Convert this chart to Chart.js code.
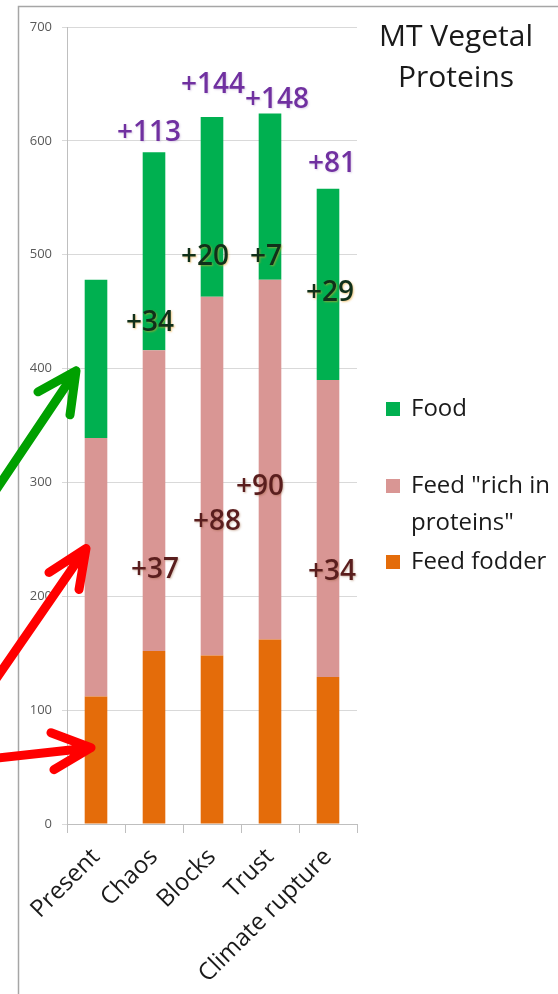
<!DOCTYPE html>
<html><head><meta charset="utf-8">
<script src="https://cdn.jsdelivr.net/npm/chart.js@4.4.1/dist/chart.umd.min.js"></script>
<style>html,body{margin:0;padding:0;background:#fff;} #wrap{width:558px;height:994px;position:relative;}</style>
</head><body><div id="wrap"><canvas id="c" width="558" height="994"></canvas></div>
<script>
// ---- data ----
const categories = ['Present', 'Chaos', 'Blocks', 'Trust', 'Climate rupture'];
const feedFodder = [112, 152, 148, 162, 129];
const feedRich   = [227, 264, 315, 316, 261];
const food       = [139, 174, 158, 146, 168];
const yTicks = [0, 100, 200, 300, 400, 500, 600, 700];
const titleLines = ['MT Vegetal', 'Proteins'];

// change annotations (text) and their anchor values (in data units)
const totalGainLabels = [null, '+113', '+144', '+148', '+81'];
const totalGainY      = [null, 607, 649, 636, 580];
const foodGainLabels  = [null, '+34', '+20', '+7', '+29'];
const foodGainY       = [null, 440, 498, 498, 466];
const richGainLabels  = [null, '+37', '+88', '+90', '+34'];
const richGainY       = [null, 223, 265, 296, 221];

// ---- layout / style (not data) ----
const FONT = "'Open Sans', 'DejaVu Sans', sans-serif";
const totalDx = [0, -5, 1, 7, 4];
const foodDx  = [0, -4, -7, -4, 2];
const richDx  = [0, 1, 5, -10, 4];
const legendY = [409, 486, 562];

const decorPlugin = {
  id: 'decor',
  beforeDraw(chart) {
    const ctx = chart.ctx;
    ctx.save();
    ctx.fillStyle = '#ffffff';
    ctx.fillRect(0, 0, chart.width, chart.height);
    ctx.strokeStyle = '#a6a6a6';
    ctx.lineWidth = 1.5;
    ctx.beginPath();
    ctx.moveTo(18.5, chart.height);
    ctx.lineTo(18.5, 6.5);
    ctx.lineTo(chart.width, 6.5);
    ctx.stroke();
    ctx.restore();
  },
  afterDraw(chart) {
    const ctx = chart.ctx;
    const xs = chart.scales.x, ys = chart.scales.y;
    ctx.save();
    // title
    ctx.fillStyle = '#1a1a1a';
    ctx.font = `30px ${FONT}`;
    ctx.textAlign = 'center';
    ctx.textBaseline = 'middle';
    titleLines.forEach((t, i) => ctx.fillText(t, 456, 37 + i * 41));

    // legend (reverse dataset order)
    const ds = chart.data.datasets.slice().reverse();
    ctx.font = `24px ${FONT}`;
    ctx.textAlign = 'left';
    ds.forEach((d, i) => {
      const y0 = legendY[i];
      ctx.fillStyle = d.backgroundColor;
      ctx.fillRect(386, y0 - 7, 14, 14);
      const words = d.label.split(' ');
      const lines = [];
      let cur = '';
      words.forEach(w => {
        const test = cur ? cur + ' ' + w : w;
        if (ctx.measureText(test).width > 146 && cur) { lines.push(cur); cur = w; }
        else cur = test;
      });
      lines.push(cur);
      ctx.fillStyle = '#1a1a1a';
      lines.forEach((l, j) => ctx.fillText(l, 411, y0 + j * 37));
    });

    // change labels
    const drawSet = (texts, yvals, dxs, color, shadow) => {
      texts.forEach((t, i) => {
        if (!t) return;
        const x = xs.getPixelForValue(i) + dxs[i];
        const y = ys.getPixelForValue(yvals[i]);
        ctx.save();
        ctx.shadowColor = shadow;
        ctx.shadowOffsetX = 1;
        ctx.shadowOffsetY = 1;
        ctx.shadowBlur = 2;
        ctx.fillStyle = color;
        ctx.fillText(t, x, y);
        ctx.restore();
      });
    };
    ctx.font = `600 28px ${FONT}`;
    ctx.textAlign = 'center';
    ctx.textBaseline = 'middle';
    drawSet(totalGainLabels, totalGainY, totalDx, '#7030a0', 'rgba(160,130,190,0.35)');
    drawSet(foodGainLabels, foodGainY, foodDx, '#10301a', 'rgba(230,160,40,0.55)');
    drawSet(richGainLabels, richGainY, richDx, '#5a1e1e', 'rgba(140,80,40,0.35)');

    // arrows pointing at the Present bar
    const cx = xs.getPixelForValue(0);
    const arrow = (tip, start, b1, b2, color) => {
      ctx.save();
      ctx.strokeStyle = color;
      ctx.lineWidth = 9;
      ctx.lineCap = 'round';
      ctx.lineJoin = 'round';
      ctx.beginPath();
      ctx.moveTo(tip[0] + start[0], tip[1] + start[1]);
      ctx.lineTo(tip[0], tip[1]);
      ctx.moveTo(tip[0] + b1[0], tip[1] + b1[1]);
      ctx.lineTo(tip[0], tip[1]);
      ctx.lineTo(tip[0] + b2[0], tip[1] + b2[1]);
      ctx.stroke();
      ctx.restore();
    };
    arrow([cx - 20, ys.getPixelForValue(398)], [-90, 134], [-38, 21], [-6, 44], '#00a000');
    arrow([cx - 10, ys.getPixelForValue(242)], [-100, 145], [-37, 24], [-7, 41], '#ff0000');
    arrow([cx - 5, ys.getPixelForValue(67)], [-100, 11], [-40, -15], [-37, 22], '#ff0000');
    ctx.restore();
  }
};

new Chart(document.getElementById('c'), {
  type: 'bar',
  data: {
    labels: categories,
    datasets: [
      { label: 'Feed fodder', data: feedFodder, backgroundColor: '#e46c0a', barPercentage: 0.39, categoryPercentage: 1 },
      { label: 'Feed "rich in proteins"', data: feedRich, backgroundColor: '#d99694', barPercentage: 0.39, categoryPercentage: 1 },
      { label: 'Food', data: food, backgroundColor: '#00b050', barPercentage: 0.39, categoryPercentage: 1 }
    ]
  },
  options: {
    responsive: false,
    animation: false,
    layout: { padding: { left: 18, right: 201, top: 27, bottom: 0 } },
    plugins: { legend: { display: false }, tooltip: { enabled: false } },
    scales: {
      x: {
        stacked: true,
        grid: { drawOnChartArea: false, tickLength: 9, color: '#bfbfbf', offset: true },
        border: { color: '#bfbfbf' },
        ticks: { minRotation: 45, maxRotation: 45, color: '#1a1a1a', font: { family: FONT, size: 24 }, padding: 10, autoSkip: false },
        afterFit(s) { s.height = 170; }
      },
      y: {
        stacked: true,
        min: 0, max: 700,
        afterBuildTicks(s) { s.ticks = yTicks.map(v => ({ value: v })); },
        grid: { color: '#d9d9d9', tickLength: 5 },
        border: { color: '#bfbfbf' },
        ticks: { color: '#595959', font: { family: FONT, size: 13 }, padding: 10 },
        afterFit(s) { s.width = 49; }
      }
    }
  },
  plugins: [decorPlugin]
});
</script></body></html>
